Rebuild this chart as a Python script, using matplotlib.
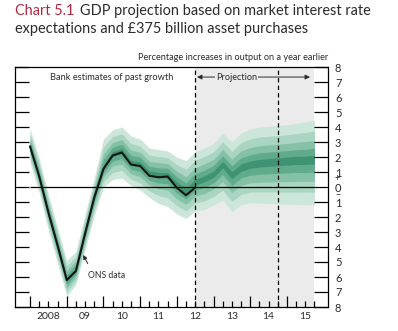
import matplotlib

matplotlib.use("Agg")
import matplotlib.pyplot as plt
import matplotlib.transforms as mtransforms
import numpy as np

plt.rcParams["font.family"] = ["Lato", "DejaVu Sans"]

# ---------------------------------------------------------------------------
# Data (quarterly, 2008 Q1 - 2015 Q4), % change on a year earlier
# ---------------------------------------------------------------------------
quarters = 2008 + np.arange(32) / 4

ons_growth = [2.7, 0.7, -1.7, -3.9, -6.2, -5.6, -3.1, -0.7, 1.2, 2.1,
              2.3, 1.5, 1.4, 0.75, 0.65, 0.7, -0.05, -0.55, -0.05]

fan_mode = [2.7, 0.7, -1.7, -3.9, -6.2, -5.5, -3.0, -0.6, 1.3, 2.2,
            2.4, 1.6, 1.5, 0.9, 0.8, 0.8, 0.15, -0.3, 0.3, 0.55,
            0.85, 1.5, 0.8, 1.3, 1.5, 1.6, 1.65, 1.7, 1.75, 1.8,
            1.8, 1.85]
fan_upper = [3.9, 1.9, -0.5, -2.7, -4.9, -4.3, -1.8, 0.6, 3.2, 3.8,
             4.0, 3.4, 3.2, 2.6, 2.5, 2.4, 2.0, 1.75, 2.35, 2.6,
             2.9, 3.6, 3.0, 3.6, 3.85, 4.0, 4.05, 4.1, 4.15, 4.25,
             4.35, 4.45]
fan_lower = [1.6, -0.4, -2.9, -5.1, -7.3, -6.5, -4.2, -1.9, 0.0, 0.5,
             0.6, 0.1, -0.2, -0.7, -1.1, -1.3, -1.8, -2.1, -1.6, -1.5,
             -1.2, -0.87, -1.64, -1.2, -1.05, -1.08, -1.1, -1.12, -1.15, -1.17,
             -1.18, -1.2]

year_labels = ["2008", "09", "10", "11", "12", "13", "14", "15"]
projection_start = 2012.5
two_years_ahead = 2014.75

# fan styling: share of the 90% half-width covered by each band, outer -> inner
BAND_SHARE = [1.0, 0.72, 0.48, 0.28, 0.1]
BAND_COLORS = ["#cde6da", "#a9d5c2", "#84c1a7", "#60ab8c", "#3e9373"]
C_SHADE = "#ebebeb"
C_TEXT = "#2b2b2b"
C_CHART = "#b0283f"

# ---------------------------------------------------------------------------
# Figure
# ---------------------------------------------------------------------------
fig = plt.figure(figsize=(3.98, 3.31), dpi=100)
ax = fig.add_axes([15 / 398, 1 - 307 / 331, 313 / 398, 240 / 331])
renderer = fig.canvas.get_renderer()


def fit_width(t, px):
    """scale a text's font size so it spans about px pixels"""
    w = t.get_window_extent(renderer).width
    t.set_fontsize(t.get_fontsize() * px / w)
    return t


mode = np.array(fan_mode)
up = np.array(fan_upper)
lo = np.array(fan_lower)

ax.axvspan(projection_start, quarters[-1], color=C_SHADE, lw=0, zorder=0)

for share, col in zip(BAND_SHARE, BAND_COLORS):
    ax.fill_between(quarters, mode - share * (mode - lo), mode + share * (up - mode),
                    color=col, lw=0, zorder=1)

ax.hlines(0, quarters[0], quarters[-1], color="black", lw=0.9, zorder=3)
ax.plot(quarters[:len(ons_growth)], ons_growth, color="#151515", lw=1.5, zorder=4)

for xv in (projection_start, two_years_ahead):
    ax.axvline(xv, color="black", lw=0.9, ls=(0, (3.5, 2.5)), zorder=5)

ax.set_xlim(2007.59, 2016.12)
ax.set_ylim(-8, 8)

# ticks
ax.set_xticks(np.arange(2008, 2016))
ax.set_xticks(quarters, minor=True)
ax.tick_params(axis="x", which="major", direction="in", length=8, width=0.9,
               labelbottom=False)
ax.tick_params(axis="x", which="minor", direction="in", length=4.5, width=0.9)
yt = np.arange(-8, 9)
ax.set_yticks(yt)
ax.set_yticklabels([str(abs(v)) for v in yt])
ax.tick_params(axis="y", direction="in", length=10, width=0.9, left=True,
               right=True, labelleft=False, labelright=True, labelsize=8,
               labelcolor=C_TEXT, pad=5)
for sp in ax.spines.values():
    sp.set_linewidth(0.9)

trans = mtransforms.blended_transform_factory(ax.transData, ax.transAxes)
for k, lab in enumerate(year_labels):
    ax.text(2008 + k + 0.5, -0.022, lab, transform=trans, ha="center", va="top",
            fontsize=7.5, color=C_TEXT)

# sign markers on the right-hand scale
rtrans = mtransforms.blended_transform_factory(ax.transAxes, ax.transData)
ax.text(1.03, 0.55, "+", transform=rtrans, ha="center", va="center",
        fontsize=6.5, color=C_TEXT, clip_on=False)
ax.text(1.03, -0.5, "\u2013", transform=rtrans, ha="center", va="center",
        fontsize=6.5, color=C_TEXT, clip_on=False)

# annotations
t = ax.text(2010.23, 7.33, "Bank estimates of past growth", ha="center",
            va="center", fontsize=7, color=C_TEXT, zorder=6)
fit_width(t, 123)
ax.annotate("", xy=(2012.55, 7.33), xytext=(2015.63, 7.33),
            arrowprops=dict(arrowstyle="<|-|>", color=C_TEXT, lw=0.7,
                            mutation_scale=7, shrinkA=0, shrinkB=0), zorder=6)
t = ax.text(2013.62, 7.33, "Projection", ha="center", va="center", fontsize=7,
            color=C_TEXT, zorder=7,
            bbox=dict(facecolor=C_SHADE, edgecolor="none", pad=0.6))
fit_width(t, 41)
t = ax.annotate("ONS data", xy=(2009.45, -4.53), xytext=(2009.58, -5.93),
                ha="left", va="center", fontsize=7, color=C_TEXT, zorder=7,
                arrowprops=dict(arrowstyle="-|>", color=C_TEXT, lw=0.7,
                                mutation_scale=6, shrinkA=4, shrinkB=0,
                                relpos=(0.1, 1.0)))
fit_width(t, 41)

# titles
t1 = fig.text(15 / 398, 1 - 4 / 331, "Chart 5.1", ha="left", va="top",
              fontsize=11, color=C_CHART)
t2 = fig.text(80 / 398, 1 - 4 / 331, "GDP projection based on market interest rate",
              ha="left", va="top", fontsize=11, color=C_TEXT)
t3 = fig.text(15 / 398, 1 - 22 / 331,
              "expectations and \u00a3375 billion asset purchases",
              ha="left", va="top", fontsize=11, color=C_TEXT)
fit_width(t3, 292)
t1.set_fontsize(t3.get_fontsize())
t2.set_fontsize(t3.get_fontsize())
t4 = fig.text(328 / 398, 1 - 58 / 331,
              "Percentage increases in output on a year earlier",
              ha="right", va="center", fontsize=6.8, color=C_TEXT)
fit_width(t4, 191)

fig.savefig("out.png", dpi=100)
